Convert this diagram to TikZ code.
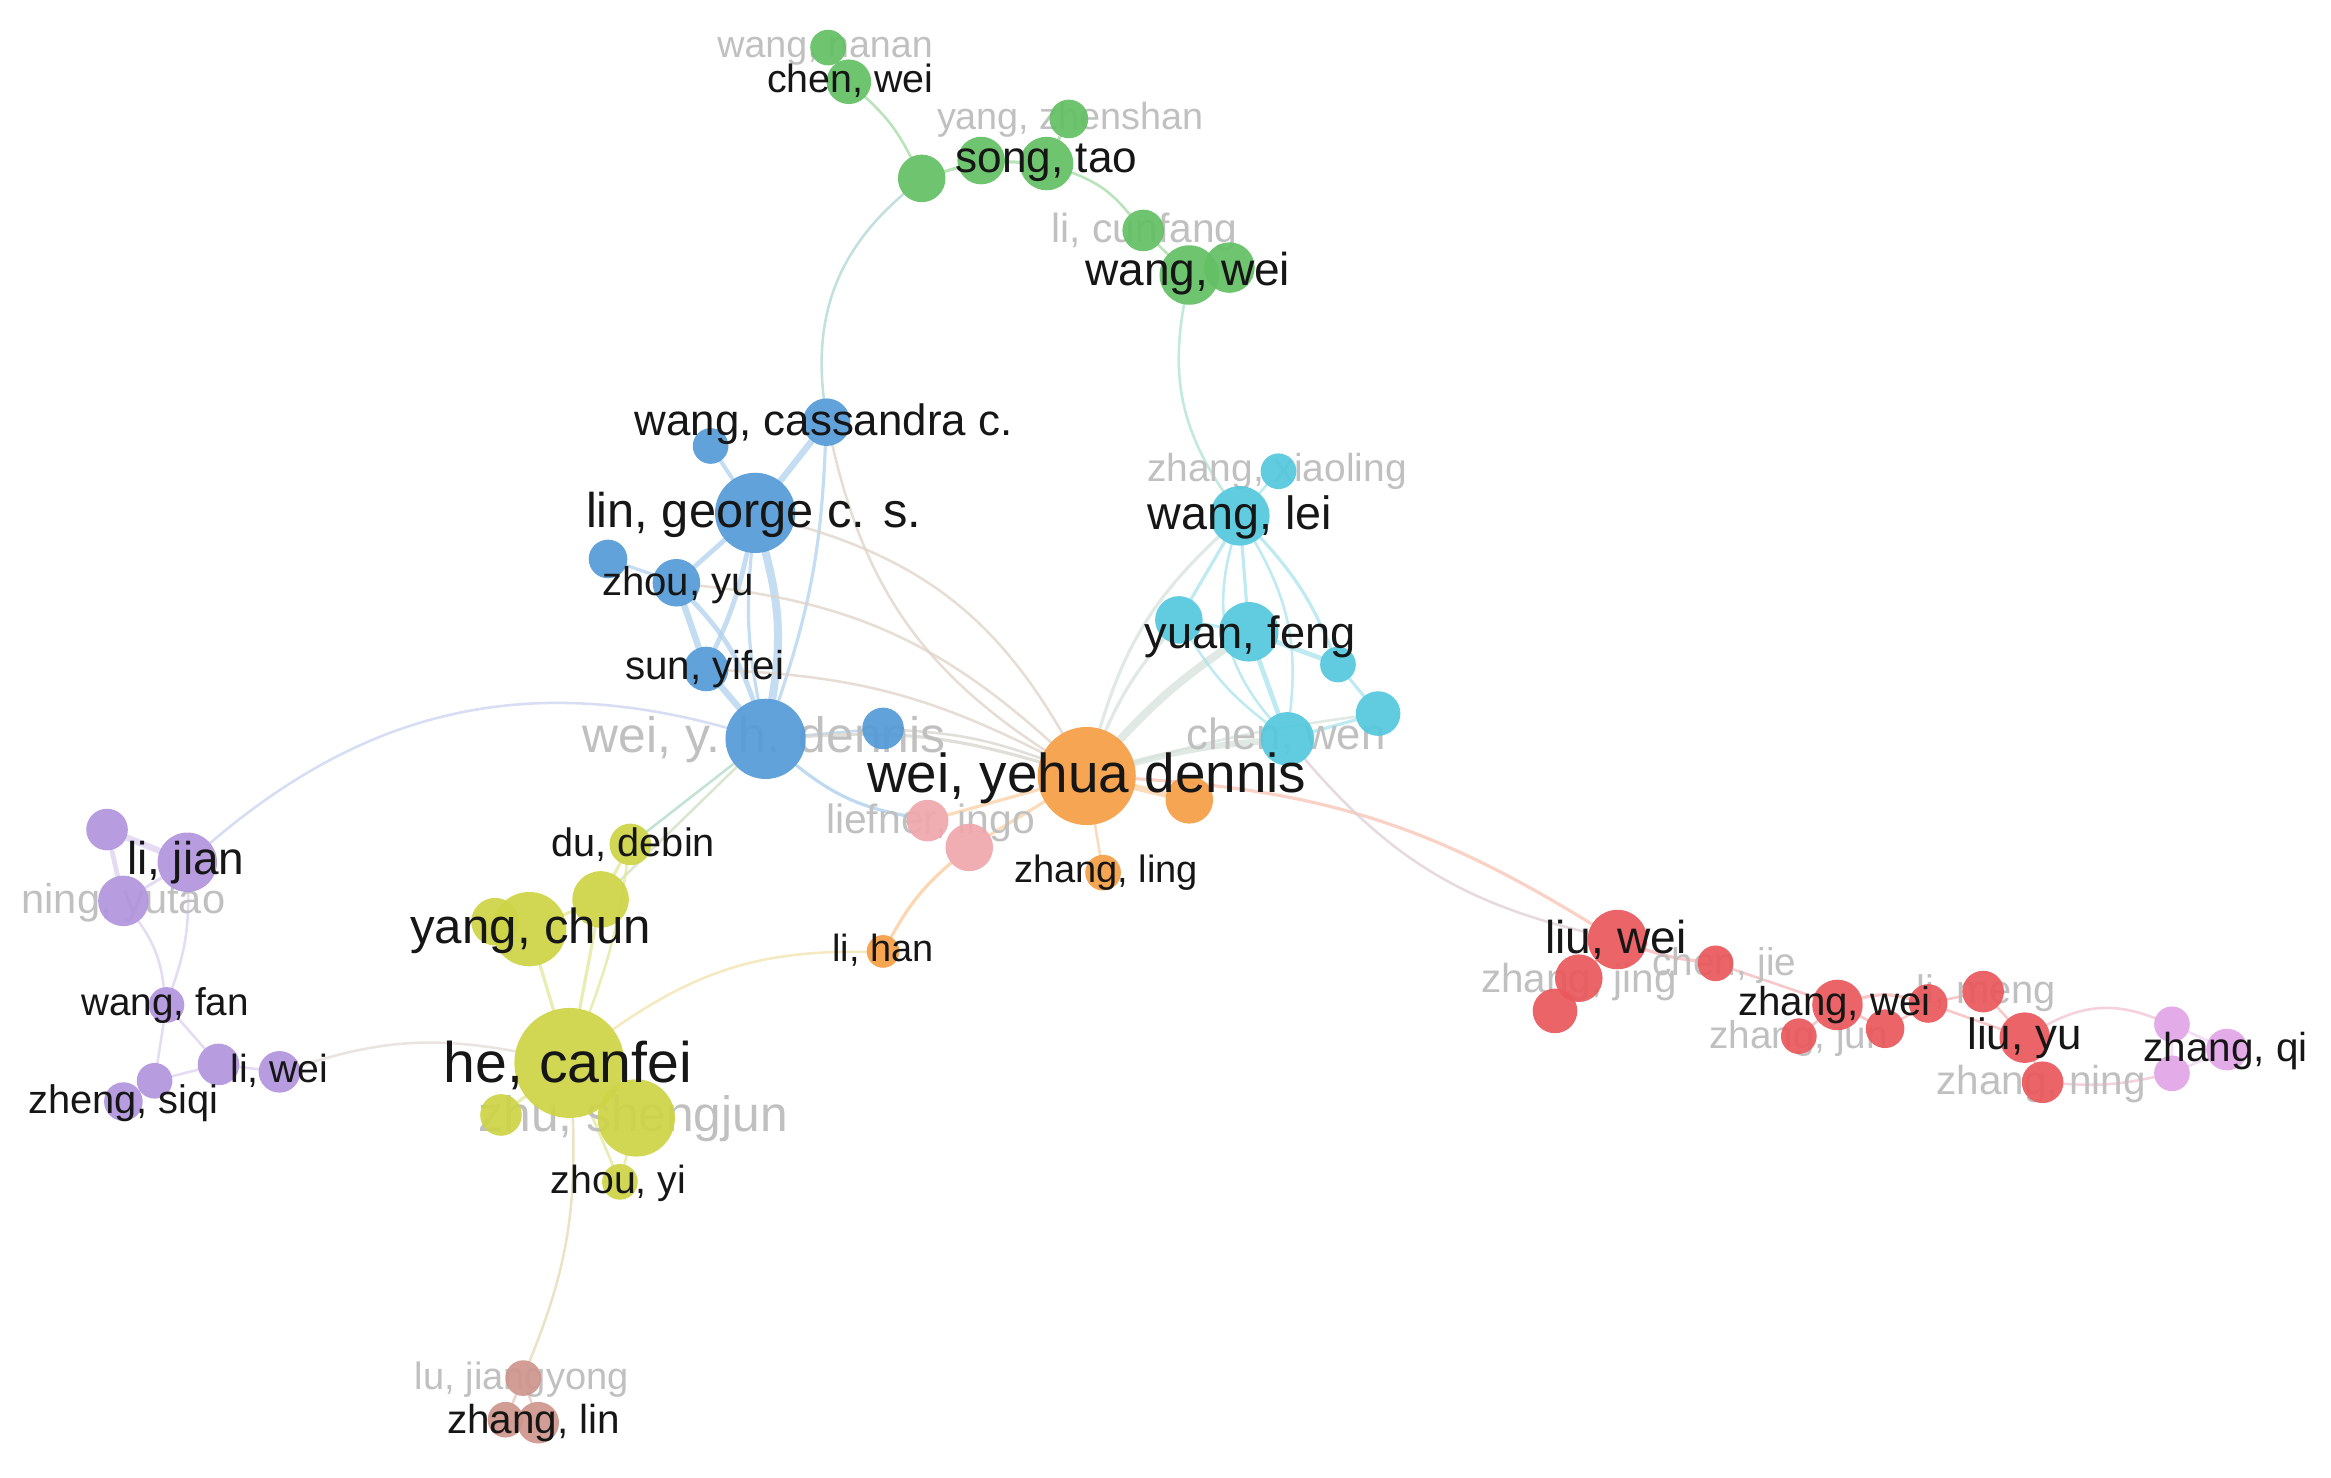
\documentclass[tikz,border=0pt]{standalone}
\usepackage{fontspec}
\setmainfont{Liberation Sans}
\pgfdeclarelayer{edges}
\pgfdeclarelayer{faint}
\pgfdeclarelayer{front}
\pgfsetlayers{edges,faint,main,front}
\definecolor{gr}{RGB}{100,192,100}
\definecolor{bl}{RGB}{85,155,215}
\definecolor{orc}{RGB}{245,158,70}
\definecolor{pk}{RGB}{240,168,172}
\definecolor{cy}{RGB}{85,200,222}
\definecolor{ye}{RGB}{205,212,70}
\definecolor{brc}{RGB}{205,150,140}
\definecolor{pu}{RGB}{178,150,222}
\definecolor{rd}{RGB}{232,88,92}
\definecolor{vi}{RGB}{225,165,230}
\definecolor{darktxt}{RGB}{22,22,22}
\definecolor{fainttxt}{RGB}{192,192,192}
\tikzset{
  bub/.style={circle,inner sep=0pt,minimum size=#1*2.9732pt,fill opacity=0.93},
  lab/.style={font=\pgfmathsetmacro\fsz{#1*1.4866}\fontsize{\fsz pt}{\fsz pt}\selectfont,
              inner sep=0pt,anchor=base,yshift=-#1*0.27*1.4866pt,text=darktxt},
  flab/.style={lab=#1,text=fainttxt},
  ed/.style={line width=#1*1.6pt,draw opacity=0.75,line cap=round},
  ed/.default=1.6
}
\begin{document}
\begin{tikzpicture}[x=1.4866pt,y=-1.4866pt]
\useasboundingbox (0,0) rectangle (1568,994);
% ---------- bubbles ----------
% green
\node[bub=12,fill=gr] (wn) at (557,32) {};
\node[bub=15,fill=gr] (cw) at (571,55) {};
\node[bub=16,fill=gr] (g1) at (620,120) {};
\node[bub=16,fill=gr] (g2) at (660,108) {};
\node[bub=13,fill=gr] (yz) at (719,80) {};
\node[bub=18,fill=gr] (st) at (704,110) {};
\node[bub=14,fill=gr] (lc) at (769,155) {};
\node[bub=17,fill=gr] (ww2) at (827,180) {};
\node[bub=20,fill=gr] (ww) at (800,185) {};
% blue
\node[bub=16,fill=bl] (cass) at (556,284) {};
\node[bub=12,fill=bl] (b1) at (478,300) {};
\node[bub=27,fill=bl] (lin) at (508,345) {};
\node[bub=13,fill=bl] (b2) at (409,376) {};
\node[bub=16,fill=bl] (zy) at (455,392) {};
\node[bub=15,fill=bl] (sun) at (475,450) {};
\node[bub=27,fill=bl] (wyh) at (515,497) {};
\node[bub=14,fill=bl] (b3) at (594,490) {};
% orange / pink
\node[bub=33,fill=orc] (wyd) at (731,522) {};
\node[bub=16,fill=orc] (o1) at (800,538) {};
\node[bub=12,fill=orc] (zling) at (742,587) {};
\node[bub=11,fill=orc] (lihan) at (594,640) {};
\node[bub=14,fill=pk] (lf1) at (624,552) {};
\node[bub=16,fill=pk] (lf2) at (652,570) {};
% cyan
\node[bub=12,fill=cy] (zx) at (860,317) {};
\node[bub=20,fill=cy] (wlei) at (834,347) {};
\node[bub=16,fill=cy] (c1) at (793,417) {};
\node[bub=20,fill=cy] (yf) at (840,425) {};
\node[bub=12,fill=cy] (c2) at (900,447) {};
\node[bub=15,fill=cy] (c3) at (927,480) {};
\node[bub=18,fill=cy] (cwen) at (866,497) {};
% yellow
\node[bub=14,fill=ye] (dd) at (424,568) {};
\node[bub=19,fill=ye] (y1) at (404,605) {};
\node[bub=16,fill=ye] (y2) at (333,620) {};
\node[bub=25,fill=ye] (yc) at (356,625) {};
\node[bub=14,fill=ye] (zhu) at (337,750) {};
\node[bub=26,fill=ye] (y3) at (428,752) {};
\node[bub=37,fill=ye] (hc) at (383,715) {};
\node[bub=12,fill=ye] (zyi) at (417,795) {};
% brown
\node[bub=12,fill=brc] (lj) at (352,927) {};
\node[bub=12,fill=brc] (zl1) at (340,955) {};
\node[bub=14,fill=brc] (zl2) at (362,957) {};
% purple
\node[bub=14,fill=pu] (p1) at (72,558) {};
\node[bub=20,fill=pu] (lijian) at (126,580) {};
\node[bub=17,fill=pu] (ning) at (83,606) {};
\node[bub=12,fill=pu] (wfan) at (112,676) {};
\node[bub=14,fill=pu] (p2) at (147,716) {};
\node[bub=14,fill=pu] (liwei) at (188,721) {};
\node[bub=13,fill=pu] (zs2) at (83,741) {};
\node[bub=12,fill=pu] (zs1) at (104,727) {};
% red
\node[bub=20,fill=rd] (liuwei) at (1088,632) {};
\node[bub=15,fill=rd] (zj2) at (1046,680) {};
\node[bub=16,fill=rd] (zj1) at (1062,658) {};
\node[bub=12,fill=rd] (cjie) at (1154,648) {};
\node[bub=12,fill=rd] (r3) at (1210,697) {};
\node[bub=17,fill=rd] (zw) at (1236,676) {};
\node[bub=13,fill=rd] (r4) at (1268,692) {};
\node[bub=13,fill=rd] (r2) at (1297,675) {};
\node[bub=14,fill=rd] (lm) at (1334,667) {};
\node[bub=14,fill=rd] (zn) at (1374,728) {};
\node[bub=17,fill=rd] (ly) at (1362,698) {};
% violet
\node[bub=12,fill=vi] (v1) at (1461,689) {};
\node[bub=12,fill=vi] (v2) at (1461,722) {};
\node[bub=14,fill=vi] (zq) at (1498,706) {};
% ---------- edges ----------
\begin{pgfonlayer}{edges}
% green
\draw[ed,gr!60!white] (wn) -- (cw);
\draw[ed,gr!60!white] (cw) to[bend left=10] (g1);
\draw[ed=2,gr!60!white] (g1) -- (g2) -- (st) -- (yz);
\draw[ed,gr!60!white] (st) to[bend left=15] (lc);
\draw[ed,gr!60!white] (lc) -- (ww) -- (ww2);
\draw[ed,gr!45!bl!50!white] (g1) to[bend right=28] (cass);
\draw[ed,gr!45!cy!50!white] (ww) to[bend right=22] (wlei);
% blue
\draw[ed=4,bl!45!white] (cass) -- (lin);
\draw[ed=2.5,bl!45!white] (b1) -- (lin);
\draw[ed=3,bl!45!white] (lin) -- (zy);
\draw[ed=3,bl!45!white] (lin) to[bend left=6] (sun);
\draw[ed=5,bl!45!white] (lin) to[bend left=12] (wyh);
\draw[ed=2,bl!45!white] (lin) to[bend right=8] (wyh);
\draw[ed=2,bl!45!white] (b2) -- (zy);
\draw[ed=4,bl!45!white] (zy) -- (sun);
\draw[ed=3,bl!45!white] (zy) to[bend left=12] (wyh);
\draw[ed=4,bl!45!white] (sun) -- (wyh);
\draw[ed=2,bl!45!white] (cass) to[bend left=8] (wyh);
\draw[ed,bl!45!white] (wyh) -- (b3);
\draw[ed,bl!40!orc!45!white] (cass) to[bend right=22] (wyd);
\draw[ed,bl!40!orc!45!white] (zy) to[bend left=18] (wyd);
\draw[ed,bl!40!orc!45!white] (lin) to[bend left=22] (wyd);
\draw[ed,bl!40!orc!45!white] (sun) to[bend left=12] (wyd);
\draw[ed=2,bl!50!orc!45!white] (wyh) to[bend left=10] (wyd);
\draw[ed=2,bl!50!white] (wyh) to[bend right=14] (lf1);
\draw[ed,bl!50!orc!45!white] (b3) to[bend left=8] (wyd);
\draw[ed,bl!45!pu!45!white] (wyh) to[bend right=28] (lijian);
\draw[ed,bl!40!gr!50!white] (wyh) -- (dd);
\draw[ed,bl!40!ye!50!white] (wyh) -- (y1);
% orange
\draw[ed=4,orc!50!white] (wyd) -- (o1);
\draw[ed,orc!50!white] (wyd) -- (zling);
\draw[ed=2,orc!50!white] (wyd) -- (lf2);
\draw[ed=2,orc!50!white] (wyd) -- (lf1);
\draw[ed=2,orc!55!white] (lf2) to[bend right=10] (lihan);
\draw[ed=1.6,orc!45!ye!45!white] (lihan) to[bend right=18] (hc);
\draw[ed=2,orc!40!cy!40!white] (wyd) to[bend left=15] (wlei);
\draw[ed=2,orc!40!cy!40!white] (wyd) to[bend left=8] (c1);
\draw[ed=5,orc!40!cy!40!white] (wyd) to[bend left=6] (yf);
\draw[ed=4,orc!40!cy!40!white] (wyd) to[bend left=5] (cwen);
\draw[ed=1.6,orc!40!cy!40!white] (wyd) to[bend left=4] (c3);
\draw[ed=2,orc!40!rd!45!white] (wyd) to[bend left=14] (liuwei);
\draw[ed=1.6,cy!40!rd!40!white] (cwen) to[bend right=18] (liuwei);
% cyan
\draw[ed,cy!50!white] (zx) -- (wlei);
\draw[ed=2,cy!50!white] (wlei) -- (c1);
\draw[ed=2,cy!50!white] (wlei) -- (yf);
\draw[ed=2,cy!50!white] (wlei) to[bend left=10] (c2);
\draw[ed=1.6,cy!50!white] (wlei) to[bend right=28] (cwen);
\draw[ed=1.6,cy!50!white] (wlei) to[bend left=18] (cwen);
\draw[ed=2,cy!50!white] (c1) -- (yf);
\draw[ed=3,cy!50!white] (yf) -- (c2);
\draw[ed=3,cy!50!white] (yf) -- (cwen);
\draw[ed=2,cy!50!white] (c2) -- (c3);
\draw[ed=2,cy!50!white] (cwen) -- (c3);
\draw[ed=1.6,cy!50!white] (c1) to[bend right=10] (cwen);
% yellow
\draw[ed=2,ye!55!white] (dd) -- (y1);
\draw[ed=2,ye!55!white] (y1) -- (yc);
\draw[ed=2,ye!55!white] (yc) -- (y2);
\draw[ed=2,ye!55!white] (hc) -- (yc);
\draw[ed=2,ye!55!white] (hc) -- (y1);
\draw[ed=1.6,ye!55!white] (hc) to[bend right=6] (dd);
\draw[ed=2,ye!55!white] (hc) -- (y3);
\draw[ed=2,ye!55!white] (hc) -- (zhu);
\draw[ed=1.6,ye!55!white] (hc) -- (zyi);
\draw[ed=1.6,ye!55!white] (y3) -- (zyi);
\draw[ed=1.6,ye!45!brc!50!white] (hc) to[bend left=12] (lj);
\draw[ed=1.6,ye!40!pu!45!white] (hc) to[bend right=14] (liwei);
% brown
\draw[ed,brc!55!white] (lj) -- (zl1) -- (zl2) -- (lj);
% purple
\draw[ed=4,pu!45!white] (p1) -- (lijian);
\draw[ed=3,pu!45!white] (p1) -- (ning);
\draw[ed=2,pu!45!white] (lijian) -- (ning);
\draw[ed=1.6,pu!45!white] (ning) to[bend left=14] (wfan);
\draw[ed=1.6,pu!45!white] (lijian) to[bend left=10] (wfan);
\draw[ed=1.6,pu!45!white] (wfan) -- (p2);
\draw[ed=1.6,pu!45!white] (wfan) -- (zs1);
\draw[ed=1.6,pu!45!white] (zs1) -- (p2) -- (liwei);
\draw[ed=1.6,pu!45!white] (zs1) -- (zs2);
% red
\draw[ed=1.6,rd!45!white] (liuwei) -- (zj1) -- (zj2);
\draw[ed=2,rd!45!white] (liuwei) to[bend right=6] (cjie);
\draw[ed=1.6,rd!45!white] (cjie) -- (zw);
\draw[ed=2,rd!45!white] (zw) to[bend left=15] (r2);
\draw[ed=1.6,rd!45!white] (zw) -- (r3);
\draw[ed=1.6,rd!45!white] (zw) -- (r4) -- (r2);
\draw[ed=1.6,rd!45!white] (r2) -- (lm) -- (ly);
\draw[ed=1.6,rd!45!white] (r2) -- (ly);
\draw[ed=1.6,rd!45!white] (ly) -- (zn);
\draw[ed=1.6,rd!45!vi!50!white] (ly) to[bend left=25] (v1);
\draw[ed=1.6,rd!45!vi!50!white] (zn) to[bend right=8] (v2);
\draw[ed=1.6,vi!50!white] (v1) -- (zq) -- (v2) -- (v1);
\end{pgfonlayer}
% ---------- faint labels ----------
\begin{pgfonlayer}{faint}
\node[flab=25.3] (l-wn) at (555,32) {wang, nanan};
\node[flab=25.4] (l-yz) at (720,80) {yang, zhenshan};
\node[flab=27.4] (l-lc) at (770,156) {li, cunfang};
\node[flab=33.5] (l-wyh) at (514,497) {wei, y. h. dennis};
\node[flab=27.5] (l-lf) at (626,553) {liefner, ingo};
\node[flab=26.2] (l-zx) at (859,317) {zhang, xiaoling};
\node[flab=29.4] (l-cwen) at (865,496) {chen, wen};
\node[flab=33.4] (l-zhu) at (426,752) {zhu, shengjun};
\node[flab=25.6] (l-lj) at (351,928) {lu, jiangyong};
\node[flab=28] (l-ning) at (83,607) {ning, yutao};
\node[flab=27.2] (l-zj) at (1062,660) {zhang, jing};
\node[flab=26] (l-cjie) at (1160,649) {chen, jie};
\node[flab=26.8] (l-lm) at (1336,668) {li, meng};
\node[flab=26] (l-zjun) at (1210,698) {zhang, jun};
\node[flab=27.2] (l-zn) at (1373,729) {zhang, ning};
\end{pgfonlayer}
% ---------- dark labels ----------
\begin{pgfonlayer}{front}
\node[lab=26.5] (l-cw) at (572,55) {chen, wei};
\node[lab=29.7] (l-st) at (704,108) {song, tao};
\node[lab=31] (l-ww) at (799,184) {wang, wei};
\node[lab=29.5] (l-cass) at (554,285) {wang, cassandra c.};
\node[lab=32.8] (l-lin) at (507,346) {lin, george c. s.};
\node[lab=27] (l-zy) at (456,393) {zhou, yu};
\node[lab=27.1] (l-sun) at (474,450) {sun, yifei};
\node[lab=36.9] (l-wyd) at (731,523) {wei, yehua dennis};
\node[lab=25.6] (l-zling) at (744,587) {zhang, ling};
\node[lab=25.5] (l-lihan) at (594,640) {li, han};
\node[lab=31.4] (l-wlei) at (834,348) {wang, lei};
\node[lab=30.4] (l-yf) at (841,428) {yuan, feng};
\node[lab=26.7] (l-dd) at (426,569) {du, debin};
\node[lab=33.1] (l-yc) at (357,626) {yang, chun};
\node[lab=38.5] (l-hc) at (382,718) {he, canfei};
\node[lab=26.4] (l-zyi) at (416,796) {zhou, yi};
\node[lab=27.2] (l-zl) at (359,957) {zhang, lin};
\node[lab=30.9] (l-lijian) at (125,580) {li, jian};
\node[lab=26] (l-wfan) at (111,676) {wang, fan};
\node[lab=26.4] (l-liwei) at (188,721) {li, wei};
\node[lab=26.8] (l-zs) at (83,742) {zheng, siqi};
\node[lab=31] (l-liuwei) at (1087,633) {liu, wei};
\node[lab=27.1] (l-zw) at (1234,676) {zhang, wei};
\node[lab=29.5] (l-ly) at (1362,698) {liu, yu};
\node[lab=27.2] (l-zq) at (1497,707) {zhang, qi};
\end{pgfonlayer}
\end{tikzpicture}
\end{document}
